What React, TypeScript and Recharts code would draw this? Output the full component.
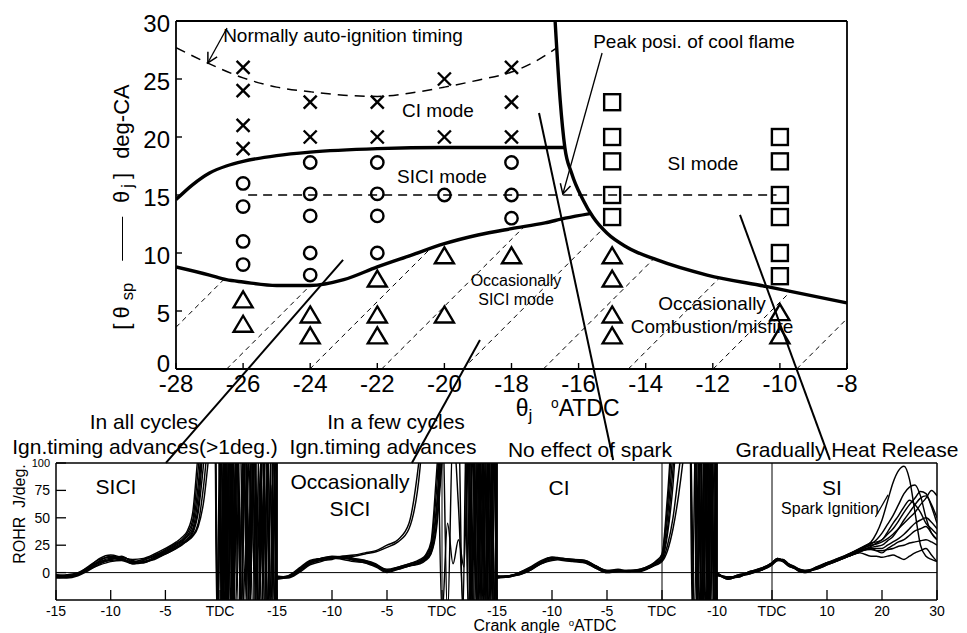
import React from 'react';
import { ComposedChart, Line, Scatter, XAxis, YAxis, ReferenceLine } from 'recharts';

const FONT = '"Liberation Sans", Arial, Helvetica, sans-serif';
const INK = '#000';

// ================= main map data =================
const mainXTicks = [-28, -26, -24, -22, -20, -18, -16, -14, -12, -10, -8];
const mainYTicks = [0, 5, 10, 15, 20, 25, 30];

const ciModePts = [
  { x: -26, y: 26 }, { x: -26, y: 24 }, { x: -26, y: 21 }, { x: -26, y: 19 },
  { x: -24, y: 23 }, { x: -24, y: 20 },
  { x: -22, y: 23 }, { x: -22, y: 20 },
  { x: -20, y: 25 }, { x: -20, y: 20 },
  { x: -18, y: 26 }, { x: -18, y: 23 }, { x: -18, y: 20 },
];
const siciModePts = [
  { x: -26, y: 16 }, { x: -26, y: 14 }, { x: -26, y: 11 }, { x: -26, y: 9 },
  { x: -24, y: 17.8 }, { x: -24, y: 15.1 }, { x: -24, y: 13.2 }, { x: -24, y: 10 }, { x: -24, y: 8.1 },
  { x: -22, y: 17.8 }, { x: -22, y: 15.1 }, { x: -22, y: 13.2 }, { x: -22, y: 10 },
  { x: -20, y: 15 },
  { x: -18, y: 17.8 }, { x: -18, y: 15 }, { x: -18, y: 13 },
];
const siModePts = [
  { x: -15, y: 23 }, { x: -15, y: 20 }, { x: -15, y: 17.9 }, { x: -15, y: 15 }, { x: -15, y: 13.1 },
  { x: -10, y: 20 }, { x: -10, y: 17.9 }, { x: -10, y: 15 }, { x: -10, y: 13.1 }, { x: -10, y: 10 }, { x: -10, y: 8 },
];
const occasionalPts = [
  { x: -26, y: 6 }, { x: -26, y: 3.9 },
  { x: -24, y: 4.7 }, { x: -24, y: 2.9 },
  { x: -22, y: 7.8 }, { x: -22, y: 4.7 }, { x: -22, y: 2.9 },
  { x: -20, y: 9.8 }, { x: -20, y: 4.7 },
  { x: -18, y: 9.8 },
  { x: -15, y: 9.8 }, { x: -15, y: 7.8 }, { x: -15, y: 4.7 }, { x: -15, y: 2.9 },
  { x: -10, y: 4.9 }, { x: -10, y: 2.9 },
];

const autoIgnitionTiming = [
  { x: -28, y: 27.7 }, { x: -27, y: 26.3 }, { x: -26, y: 25.1 }, { x: -25, y: 24.3 }, { x: -24, y: 23.9 },
  { x: -23, y: 23.6 }, { x: -22, y: 23.5 }, { x: -21, y: 23.8 }, { x: -20, y: 24.3 }, { x: -19, y: 24.9 },
  { x: -18, y: 25.6 }, { x: -17.3, y: 26.5 }, { x: -16.64, y: 27.7 },
];
const ciSiciBoundary = [
  { x: -28, y: 14.6 }, { x: -27.5, y: 15.9 }, { x: -27, y: 16.9 }, { x: -26.5, y: 17.5 }, { x: -26, y: 17.9 },
  { x: -25, y: 18.4 }, { x: -24, y: 18.7 }, { x: -22, y: 19.0 }, { x: -20, y: 19.1 }, { x: -18, y: 19.1 },
  { x: -16.41, y: 19.1 },
];
const siciLowerBoundary = [
  { x: -28, y: 8.8 }, { x: -27, y: 8.1 }, { x: -26.5, y: 7.7 }, { x: -26, y: 7.5 }, { x: -25, y: 7.2 },
  { x: -24, y: 7.2 }, { x: -23, y: 7.7 }, { x: -22, y: 8.8 }, { x: -21, y: 9.8 }, { x: -20, y: 10.8 },
  { x: -19, y: 11.55 }, { x: -18, y: 12.1 }, { x: -17, y: 12.6 }, { x: -16.4, y: 13.0 }, { x: -15.66, y: 13.4 },
];
const siBoundary = [
  { x: -16.7, y: 30 }, { x: -16.55, y: 23.2 }, { x: -16.41, y: 19.1 }, { x: -16.21, y: 16.9 },
  { x: -15.87, y: 14.6 }, { x: -15.57, y: 13.1 }, { x: -15.15, y: 11.7 }, { x: -14.56, y: 10.5 },
  { x: -13.66, y: 9.4 }, { x: -12.17, y: 8.1 }, { x: -10.38, y: 7.1 }, { x: -8, y: 5.7 },
];
const coolFlamePeak = [{ x: -25.85, y: 15 }, { x: -10.1, y: 15 }];

// hatching of the "occasionally" region
const hatchFrom = [[-28, 3.6], [-26.49, 0], [-24.01, 0], [-21.87, 0], [-19.45, 0], [-17.05, 0], [-14.52, 0], [-11.99, 0], [-9.5, 0]];
const hatchTo = [[-26.57, 7.73], [-24.0, 7.2], [-20.41, 10.4], [-17.61, 12.31], [-15.27, 12.1], [-13.75, 9.53], [-11.79, 7.89], [-9.68, 6.69], [-8, 4.34]];

// leader lines map -> ROHR panels
const leaderFrom = [[-23.02, 9.4], [-18.94, 2.5], [-17.18, 22.07], [-11.19, 13.28]];
const leaderTo = [[-28.3, -8.1], [-20.97, -8.1], [-14.97, -7.84], [-8.51, -7.84]];
// annotation arrows
const arrowFrom = [[-26.48, 29.4], [-15.3, 27.24]];
const arrowTo = [[-27.05, 26.4], [-16.47, 15.09]];

// ================= ROHR panels data =================
const rohrTicks = [0, 25, 50, 75, 100];

// ---- panel 1 : SICI ----
const p1PreX = [-15, -14, -13, -12, -11, -10, -9, -8, -7, -6, -5, -4, -3.5, -3, -2.5, -2, -1.5, -1, -0.5];
const p1Pre = [
  [-3, -4, -2, 4, 10, 13, 13, 9, 10, 14, 19, 25, 28, 33, 40, 70, 130, 160, 160],
  [-2, -3, -1, 6, 12, 14, 12, 10, 12, 15, 21, 27, 30, 36, 48, 95, 150, 160, 160],
  [-4, -5, -3, 2, 8, 12, 14, 11, 9, 13, 18, 23, 26, 30, 36, 55, 100, 150, 160],
  [-3, -2, 0, 5, 11, 15, 13, 8, 11, 16, 20, 26, 29, 34, 44, 80, 140, 160, 160],
  [-5, -4, -1, 3, 9, 11, 12, 9, 10, 12, 17, 22, 26, 29, 34, 45, 80, 130, 160],
  [-2, -3, -2, 5, 13, 16, 14, 12, 13, 17, 22, 28, 32, 38, 55, 110, 160, 160, 160],
  [-4, -3, -1, 3, 7, 10, 11, 8, 9, 13, 17, 22, 25, 29, 33, 42, 65, 110, 160],
  [-3, -4, -2, 4, 10, 12, 15, 10, 12, 15, 19, 24, 27, 31, 38, 60, 120, 160, 160],
];
const p1PostX = [
  [-0.2, 0.1, 0.4, 0.7, 1.0, 1.3, 1.7, 2.1, 2.5, 2.9, 3.3, 3.7, 4.1, 4.5, 4.9, 5.2],
  [-0.15, 0.15, 0.45, 0.75, 1.05, 1.4, 1.8, 2.2, 2.6, 3.0, 3.4, 3.8, 4.2, 4.6, 5.0, 5.2],
  [-0.25, 0.05, 0.35, 0.6, 0.9, 1.2, 1.55, 1.95, 2.35, 2.75, 3.15, 3.55, 3.95, 4.35, 4.75, 5.15],
  [-0.1, 0.2, 0.5, 0.8, 1.1, 1.45, 1.85, 2.25, 2.65, 3.05, 3.45, 3.85, 4.25, 4.65, 5.05, 5.2],
  [-0.3, 0.0, 0.25, 0.55, 0.85, 1.15, 1.5, 1.9, 2.3, 2.7, 3.1, 3.5, 3.9, 4.3, 4.7, 5.1],
  [-0.05, 0.25, 0.55, 0.85, 1.15, 1.5, 1.9, 2.3, 2.7, 3.1, 3.5, 3.9, 4.3, 4.7, 5.0, 5.2],
  [-0.22, 0.08, 0.3, 0.62, 0.95, 1.25, 1.6, 2.0, 2.4, 2.8, 3.2, 3.6, 4.0, 4.4, 4.8, 5.2],
  [-0.12, 0.18, 0.42, 0.72, 1.02, 1.35, 1.75, 2.15, 2.55, 2.95, 3.35, 3.75, 4.15, 4.55, 4.95, 5.2],
];
const p1Post = [
  [-40, 130, -40, 130, -40, 130, -40, 120, -40, 130, -40, 100, -40, 130, -40, 130],
  [130, -40, 130, -40, 130, -40, 130, -40, 110, -40, 130, -40, 130, -40, 90, -40],
  [-40, -40, 130, -40, 130, -40, 130, -40, 130, -20, 130, -40, 130, -40, 130, -40],
  [130, -40, -40, 130, -40, 130, 20, 130, -40, 130, -40, 130, -40, 80, -40, 130],
  [-40, 130, 130, -40, 130, -40, 130, -40, 130, -40, 130, -40, 60, 130, -40, 130],
  [130, -40, 130, -40, -40, 130, -40, 130, -40, 130, -40, 130, -40, 130, -40, -40],
  [-40, 130, -40, 130, 130, -40, 130, -40, 40, 130, -40, 130, -40, 130, 130, -40],
  [130, -40, 130, -40, 130, -40, -40, 130, -40, 130, -40, -40, 130, -40, 130, 130],
];

// ---- panel 2 : occasionally SICI ----
const p2PreX = [-15, -14, -13, -12, -11, -10, -9, -8, -7, -6, -5, -4, -3, -2, -1.5, -1, -0.5, 0];
const p2Pre = [
  [-4, -4, 2, 9, 12, 13, 13, 12, 10, 6, 1, 4, 7, 10, 14, 22, 60, 130],
  [-5, -3, 4, 11, 13, 14, 14, 11, 9, 5, 0, 3, 6, 9, 12, 18, 45, 110],
  [-3, -4, 1, 8, 11, 12, 15, 13, 11, 7, 2, 5, 8, 11, 15, 25, 75, 150],
  [-4, -5, 0, 7, 10, 13, 12, 10, 9, 6, 1, 4, 6, 9, 13, 20, 55, 120],
  [-6, -4, 3, 10, 13, 15, 14, 12, 10, 7, 3, 5, 8, 12, 16, 28, 90, 160],
  [-5, -4, 2, 9, 12, 13, 13, 12, 11, 8, 2, 3, 6, 8, 11, 17, 40, 100],
  [-4, -3, 3, 10, 13, 14, 15, 16, 18, 20, 25, 30, 45, 110, 160, 160, 160, -40],
  [-5, -4, 2, 9, 12, 14, 14, 15, 17, 19, 23, 28, 40, 95, 160, 160, 160, 160],
];
const p2PostX = [
  [0.5, 1.0, 1.5, 2.0, 2.4, 2.8, 3.2, 3.6, 4.0, 4.4, 4.8, 5.0],
  [0.5, 1.0, 1.5, 2.1, 2.5, 2.9, 3.3, 3.7, 4.1, 4.5, 4.9, 5.1],
  [0.5, 1.0, 1.5, 2.0, 2.3, 2.65, 3.05, 3.45, 3.85, 4.25, 4.65, 5.05],
  [0.5, 1.0, 1.45, 1.9, 2.2, 2.6, 3.0, 3.4, 3.8, 4.2, 4.6, 5.0],
  [0.5, 1.0, 1.5, 2.05, 2.45, 2.75, 3.15, 3.55, 3.95, 4.35, 4.75, 5.1],
  [0.5, 1.0, 1.5, 2.0, 2.35, 2.7, 3.1, 3.5, 3.9, 4.3, 4.7, 5.05],
  [0.5, 1.0, 1.5, 2.0, 2.4, 2.8, 3.2, 3.6, 4.0, 4.4, 4.8, 5.0],
  [0.5, 1.0, 1.5, 2.0, 2.5, 2.85, 3.25, 3.65, 4.05, 4.45, 4.85, 5.1],
];
const p2Post = [
  [160, 160, 160, 160, -40, 130, -40, 130, -40, 130, -40, 130],
  [160, 160, 160, 130, 130, -40, 130, -40, 130, -40, 130, -40],
  [160, 160, 160, 160, 160, -40, -40, 130, -40, 130, -40, 130],
  [160, 160, 160, -40, 130, -40, 130, -40, 130, -40, 130, -40],
  [160, 160, 160, 160, -40, 130, -40, 130, -40, 130, -40, 130],
  [160, 160, 160, 160, 130, -40, 130, -40, 130, -40, 130, -40],
  [45, 8, 30, 5, 130, -40, 130, -40, 130, -40, 130, -40],
  [-40, 130, 60, -40, -40, 130, -40, 130, -40, 130, -40, 130],
];

// ---- panel 3 : CI ----
const p3PreX = [-15, -14, -13, -12, -11, -10, -9, -8, -7, -6, -5, -4, -3, -2, -1, -0.5, 0, 0.5, 1.0, 1.5, 2.0, 2.5];
const p3Pre = [
  [-4, -3, -1, 3, 9, 13, 12, 11, 10, 5, 1, 2, 1, 2, 6, 9, 14, 50, 110, 160, 160, 160],
  [-3, -4, 0, 4, 10, 14, 13, 10, 9, 4, 0, 1, 2, 3, 7, 10, 16, 60, 130, 160, 160, 160],
  [-5, -3, -2, 2, 8, 12, 13, 12, 11, 6, 2, 3, 1, 1, 5, 8, 12, 35, 80, 150, 160, 160],
  [-4, -4, -1, 3, 9, 13, 11, 10, 10, 5, 1, 2, 2, 2, 6, 9, 13, 40, 95, 160, 160, 160],
  [-3, -3, 0, 5, 11, 14, 12, 11, 9, 4, 0, 1, 1, 3, 7, 11, 17, 70, 140, 160, 160, 160],
  [-4, -3, -1, 3, 8, 11, 12, 12, 11, 6, 2, 2, 1, 2, 5, 8, 11, 25, 50, 90, 130, 160],
  [-5, -4, -2, 2, 9, 13, 13, 11, 10, 6, 1, 2, 2, 2, 5, 7, 10, 20, 40, 70, 110, 160],
];
const p3PostX = [
  [2.9, 3.2, 3.5, 3.8, 4.1, 4.4, 4.7, 5.0],
  [2.95, 3.25, 3.55, 3.85, 4.15, 4.45, 4.75, 5.05],
  [2.8, 3.1, 3.4, 3.7, 4.0, 4.3, 4.6, 4.9],
  [2.85, 3.15, 3.45, 3.75, 4.05, 4.35, 4.65, 4.95],
  [3.0, 3.3, 3.6, 3.9, 4.2, 4.5, 4.8, 5.1],
  [2.75, 3.05, 3.35, 3.65, 3.95, 4.25, 4.55, 4.85],
  [2.9, 3.22, 3.52, 3.82, 4.12, 4.42, 4.72, 5.02],
];
const p3Post = [
  [130, -40, 130, -40, 130, -40, 130, -40],
  [-40, 130, -40, 130, -40, 130, -40, 130],
  [130, 130, -40, 130, -40, 130, -40, 130],
  [-40, -40, 130, -40, 130, -40, 130, -40],
  [130, -40, -40, 130, -40, 130, -40, 130],
  [-40, 130, 130, -40, 130, -40, 130, -40],
  [130, -40, 130, -40, -40, 130, -40, 130],
];

// ---- panel 4 : SI ----
const p4X = [-10, -8, -6, -4, -2, 0, 1, 2, 3, 4, 5, 6, 8, 10, 12, 14, 16, 18, 19, 20, 21, 22, 23, 24, 25, 26, 27, 28, 29, 30];
const p4Curves = [
  [-1, -5, -3, 0, 3, 8, 12, 11, 7, 5, 2, 1, 4, 8, 13, 17, 22, 28, 36, 48, 65, 82, 93, 97, 85, 55, 25, 15, 12, 10],
  [-2, -4, -4, 1, 4, 9, 13, 10, 6, 4, 1, 0, 5, 9, 12, 16, 21, 26, 30, 36, 44, 52, 62, 72, 78, 80, 70, 50, 36, 30],
  [0, -6, -3, -1, 2, 7, 11, 12, 8, 6, 3, 2, 3, 7, 11, 15, 20, 24, 27, 30, 35, 40, 47, 55, 62, 68, 74, 72, 60, 45],
  [-1, -5, -2, 0, 3, 8, 12, 11, 7, 5, 2, 1, 5, 8, 12, 17, 21, 25, 26, 28, 31, 35, 40, 45, 50, 55, 62, 68, 75, 70],
  [-3, -4, -3, 1, 4, 9, 13, 11, 6, 4, 1, 0, 4, 9, 13, 16, 20, 23, 24, 25, 29, 33, 40, 48, 55, 62, 68, 70, 62, 50],
  [-2, -5, -4, 0, 2, 7, 12, 12, 8, 5, 2, 1, 3, 7, 11, 15, 19, 22, 22, 22, 25, 28, 31, 35, 40, 45, 48, 50, 46, 40],
  [-1, -6, -3, -1, 3, 8, 11, 10, 7, 5, 3, 2, 4, 8, 12, 16, 20, 21, 20, 20, 21, 22, 24, 25, 27, 28, 29, 30, 28, 25],
  [0, -5, -2, 0, 3, 8, 12, 11, 7, 4, 2, 1, 4, 8, 12, 15, 18, 15, 15, 14, 15, 16, 14, 12, 15, 18, 20, 22, 16, 10],
  [-2, -4, -3, 1, 3, 9, 13, 11, 7, 5, 2, 1, 4, 9, 12, 17, 22, 27, 28, 30, 37, 45, 52, 60, 66, 62, 55, 45, 40, 35],
  [-1, -5, -3, 0, 2, 8, 12, 11, 8, 5, 3, 1, 4, 8, 11, 15, 19, 22, 20, 18, 22, 25, 28, 30, 34, 38, 40, 42, 36, 30],
];
// leader from "Spark Ignition" label to the curves in panel 4
const sparkLeader = [[18.8, 50.7], [21.1, 70.9]];

// ================= helpers =================
const toPts = (xs: number[], ys: number[]) => xs.map((x, i) => ({ x, y: ys[i] }));
const joinPts = (preX: number[], pre: number[], postX?: number[], post?: number[]) =>
  toPts(preX, pre).concat(postX && post ? toPts(postX, post) : []);

const p1Series = p1Pre.map((c, i) => joinPts(p1PreX, c, p1PostX[i], p1Post[i]));
const p2Series = p2Pre.map((c, i) => joinPts(p2PreX, c, p2PostX[i], p2Post[i]));
const p3Series = p3Pre.map((c, i) => joinPts(p3PreX, c, p3PostX[i], p3Post[i]));
const p4Series = p4Curves.map((c) => toPts(p4X, c));

const CrossShape = (p: any) => {
  const { cx, cy } = p;
  const s = 6.5;
  return (
    <g stroke={INK} strokeWidth={2.4}>
      <line x1={cx - s} y1={cy - s} x2={cx + s} y2={cy + s} />
      <line x1={cx - s} y1={cy + s} x2={cx + s} y2={cy - s} />
    </g>
  );
};
const CircleShape = (p: any) => <circle cx={p.cx} cy={p.cy} r={6.2} fill="none" stroke={INK} strokeWidth={2.4} />;
const SquareShape = (p: any) => (
  <rect x={p.cx - 8} y={p.cy - 8} width={16} height={16} fill="none" stroke={INK} strokeWidth={2.4} />
);
const TriShape = (p: any) => {
  const { cx, cy } = p;
  return (
    <polygon points={`${cx},${cy - 8} ${cx + 9.5},${cy + 8} ${cx - 9.5},${cy + 8}`}
      fill="none" stroke={INK} strokeWidth={2.4} strokeLinejoin="miter" />
  );
};

const ArrowLine = (p: any) => {
  const { x1, y1, x2, y2 } = p;
  if ([x1, y1, x2, y2].some((v) => typeof v !== 'number' || isNaN(v))) return <g />;
  const a = Math.atan2(y2 - y1, x2 - x1);
  const L = 11;
  const h = 0.5;
  const ax = x2 - L * Math.cos(a - h);
  const ay = y2 - L * Math.sin(a - h);
  const bx = x2 - L * Math.cos(a + h);
  const by = y2 - L * Math.sin(a + h);
  return (
    <g>
      <line x1={x1} y1={y1} x2={x2} y2={y2} stroke={INK} strokeWidth={1.3} />
      <polyline points={`${ax},${ay} ${x2},${y2} ${bx},${by}`} fill="none" stroke={INK} strokeWidth={1.5} />
    </g>
  );
};

// main y tick: the "0" label sits a little higher, clear of "-28"
const MainYTick = (p: any) => {
  const v = p.payload.value;
  return (
    <text x={p.x} y={p.y} dy={v === 0 ? 3 : 10.5} textAnchor="end" fontSize={24}
      fontFamily={FONT} fill={INK}>{v}</text>
  );
};

const RohrTick = (p: any) => {
  const v = p.payload.value;
  return (
    <text x={p.x} y={p.y} dy={v === 100 ? 4 : 5} textAnchor="end" fontSize={v === 100 ? 11 : 14}
      fontFamily={FONT} fill={INK}>{v}</text>
  );
};

type PanelProps = {
  plotLeft: number;
  plotWidth: number;
  xDomain: [number, number];
  xTicks: number[];
  series: { x: number; y: number }[][];
  yLabels: boolean;
  extra?: number[][];
};

function RohrPanel({ plotLeft, plotWidth, xDomain, xTicks, series, yLabels, extra }: PanelProps) {
  const yw = 56;
  return (
    <div style={{ position: 'absolute', left: plotLeft - yw, top: 455 }}>
      <ComposedChart width={yw + plotWidth + 8} height={175} margin={{ top: 8, right: 8, bottom: 0, left: 0 }}>
        <XAxis type="number" dataKey="x" domain={xDomain} ticks={xTicks} allowDataOverflow interval={0}
          height={30} tickSize={-10} tickMargin={16}
          tickFormatter={(v: number) => (v === 0 ? 'TDC' : String(v))}
          axisLine={{ stroke: INK, strokeWidth: 1.5 }} tickLine={{ stroke: INK, strokeWidth: 1.3 }}
          tick={{ fontSize: 14, fill: INK, fontFamily: FONT }} />
        <YAxis type="number" dataKey="y" domain={[-25, 100]} ticks={rohrTicks} allowDataOverflow interval={0}
          width={yw} tickSize={-10} tickMargin={16}
          axisLine={{ stroke: INK, strokeWidth: 1.5 }} tickLine={{ stroke: INK, strokeWidth: 1.3 }}
          tick={yLabels ? <RohrTick /> : false} />
        <ReferenceLine y={0} stroke={INK} strokeWidth={1} />
        <ReferenceLine x={0} stroke={INK} strokeWidth={1} />
        <ReferenceLine y={100} stroke={INK} strokeWidth={1.5} />
        <ReferenceLine x={xDomain[1]} stroke={INK} strokeWidth={1.5} />
        {series.map((pts, i) => (
          <Line key={'c' + i} data={pts} dataKey="y" type="monotone" dot={false} activeDot={false}
            stroke={INK} strokeWidth={1.45} isAnimationActive={false} />
        ))}
        {extra ? (
          <ReferenceLine segment={[{ x: extra[0][0], y: extra[0][1] }, { x: extra[1][0], y: extra[1][1] }]}
            stroke={INK} strokeWidth={1.2} ifOverflow="visible" />
        ) : null}
      </ComposedChart>
    </div>
  );
}

const Txt = (props: { x: number; y: number; size: number; children: React.ReactNode; rotate?: boolean; style?: React.CSSProperties }) => (
  <div style={{
    position: 'absolute', left: props.x, top: props.y,
    transform: props.rotate ? 'translate(-50%,-50%) rotate(-90deg)' : 'translate(-50%,-50%)',
    fontSize: props.size, fontFamily: FONT, lineHeight: 1, whiteSpace: 'nowrap', color: INK,
    ...(props.style || {}),
  }}>{props.children}</div>
);

const subStyle: React.CSSProperties = { fontSize: '0.75em', position: 'relative', top: '0.3em' };
const supStyle: React.CSSProperties = { fontSize: '0.6em', position: 'relative', top: '-0.55em' };

export default function App() {
  return (
    <div style={{ position: 'absolute', left: 0, top: 0, width: 967, height: 633, background: '#fff', overflow: 'hidden' }}>
      {/* ROHR panels */}
      <RohrPanel plotLeft={56} plotWidth={221} xDomain={[-15, 5.2]} xTicks={[-15, -10, -5, 0]} series={p1Series} yLabels />
      <RohrPanel plotLeft={277} plotWidth={220} xDomain={[-15, 5]} xTicks={[-15, -10, -5, 0]} series={p2Series} yLabels={false} />
      <RohrPanel plotLeft={497} plotWidth={220} xDomain={[-15, 5]} xTicks={[-15, -10, -5, 0]} series={p3Series} yLabels={false} />
      <RohrPanel plotLeft={717} plotWidth={220} xDomain={[-10, 30]} xTicks={[-10, 0, 10, 20, 30]} series={p4Series} yLabels={false} extra={sparkLeader} />

      {/* main combustion-mode map */}
      <div style={{ position: 'absolute', left: 0, top: 0 }}>
        <ComposedChart width={967} height={633} margin={{ top: 21, right: 120, bottom: 224, left: 116 }}>
          <XAxis type="number" dataKey="x" domain={[-28, -8]} ticks={mainXTicks} allowDataOverflow interval={0}
            height={40} tickSize={-6} tickMargin={12}
            axisLine={{ stroke: INK, strokeWidth: 1.8 }} tickLine={{ stroke: INK, strokeWidth: 1.4 }}
            tick={{ fontSize: 24, fill: INK, fontFamily: FONT }} />
          <YAxis type="number" dataKey="y" domain={[0, 30]} ticks={mainYTicks} allowDataOverflow interval={0}
            width={60} tickSize={-6} tickMargin={12}
            axisLine={{ stroke: INK, strokeWidth: 1.8 }} tickLine={{ stroke: INK, strokeWidth: 1.4 }}
            tick={<MainYTick />} />
          <ReferenceLine y={30} stroke={INK} strokeWidth={1.8} />
          <ReferenceLine x={-8} stroke={INK} strokeWidth={1.8} />

          {hatchFrom.map((s, i) => (
            <ReferenceLine key={'h' + i}
              segment={[{ x: s[0], y: s[1] }, { x: hatchTo[i][0], y: hatchTo[i][1] }]}
              stroke={INK} strokeWidth={1} strokeDasharray="5 4" ifOverflow="visible" />
          ))}

          <Line data={autoIgnitionTiming} dataKey="y" type="monotone" dot={false} activeDot={false}
            stroke={INK} strokeWidth={1.5} strokeDasharray="10 7" isAnimationActive={false} />
          <Line data={coolFlamePeak} dataKey="y" type="linear" dot={false} activeDot={false}
            stroke={INK} strokeWidth={1.4} strokeDasharray="9 6" isAnimationActive={false} />
          <Line data={ciSiciBoundary} dataKey="y" type="monotone" dot={false} activeDot={false}
            stroke={INK} strokeWidth={3.4} isAnimationActive={false} />
          <Line data={siciLowerBoundary} dataKey="y" type="monotone" dot={false} activeDot={false}
            stroke={INK} strokeWidth={3.4} isAnimationActive={false} />
          <Line data={siBoundary} dataKey="y" type="monotone" dot={false} activeDot={false}
            stroke={INK} strokeWidth={3.4} isAnimationActive={false} />

          <Scatter data={ciModePts} shape={CrossShape} isAnimationActive={false} />
          <Scatter data={siciModePts} shape={CircleShape} isAnimationActive={false} />
          <Scatter data={siModePts} shape={SquareShape} isAnimationActive={false} />
          <Scatter data={occasionalPts} shape={TriShape} isAnimationActive={false} />

          {leaderFrom.map((s, i) => (
            <ReferenceLine key={'l' + i}
              segment={[{ x: s[0], y: s[1] }, { x: leaderTo[i][0], y: leaderTo[i][1] }]}
              stroke={INK} strokeWidth={2} ifOverflow="visible" />
          ))}
          {arrowFrom.map((s, i) => (
            <ReferenceLine key={'a' + i}
              segment={[{ x: s[0], y: s[1] }, { x: arrowTo[i][0], y: arrowTo[i][1] }]}
              stroke={INK} strokeWidth={1.3} ifOverflow="visible" shape={ArrowLine} />
          ))}
        </ComposedChart>
      </div>

      {/* main map annotations */}
      <Txt x={343} y={35} size={19}>Normally auto-ignition timing</Txt>
      <Txt x={694} y={41} size={19}>Peak posi. of cool flame</Txt>
      <Txt x={438} y={110} size={19}>CI mode</Txt>
      <Txt x={442} y={176} size={19}>SICI mode</Txt>
      <Txt x={703} y={163} size={19}>SI mode</Txt>
      <Txt x={516} y={281} size={16}>Occasionally</Txt>
      <Txt x={516} y={300} size={16}>SICI mode</Txt>
      <Txt x={712} y={303} size={19}>Occasionally</Txt>
      <Txt x={712} y={326} size={19}>Combustion/misfire</Txt>

      {/* main axis titles */}
      <Txt x={122} y={207} size={22} rotate style={{ display: 'flex', alignItems: 'center' }}>
        <span style={{ marginRight: 5 }}>[</span><span>θ</span>
        <span style={{ ...subStyle, marginLeft: 6, marginRight: 8 }}>sp</span>
        <span style={{ display: 'inline-block', width: 44, borderTop: '1.6px solid #000', margin: '0 14px' }} />
        <span>θ</span><span style={{ ...subStyle, marginLeft: 3, marginRight: 5 }}>j</span><span>]</span>
        <span style={{ marginLeft: 14 }}>deg-CA</span>
      </Txt>
      <Txt x={524} y={408} size={23} style={{ lineHeight: 0.8 }}><span>θ</span><span style={subStyle}>j</span></Txt>
      <div style={{ position: 'absolute', left: 551, top: 408, transform: 'translateY(-50%)', fontSize: 23, fontFamily: FONT, lineHeight: 0.8, whiteSpace: 'nowrap' }}>
        <span style={supStyle}>o</span>ATDC
      </div>

      {/* panel headings */}
      <Txt x={144} y={421} size={21}>In all cycles</Txt>
      <Txt x={145} y={446} size={21}>Ign.timing advances(&gt;1deg.)</Txt>
      <Txt x={396} y={421} size={21}>In a few cycles</Txt>
      <Txt x={383} y={446} size={21}>Ign.timing advances</Txt>
      <Txt x={590} y={449} size={21}>No effect of spark</Txt>
      <Txt x={847} y={449} size={21}>Gradually Heat Release</Txt>

      {/* in-panel labels */}
      <Txt x={116} y={486} size={21}>SICI</Txt>
      <Txt x={350} y={481} size={21}>Occasionally</Txt>
      <Txt x={350} y={508} size={21}>SICI</Txt>
      <Txt x={559} y={487} size={21}>CI</Txt>
      <Txt x={832} y={487} size={21}>SI</Txt>
      <Txt x={830} y={509} size={16}>Spark Ignition</Txt>

      {/* panel axis titles */}
      <Txt x={20} y={514} size={16} rotate>ROHR&nbsp;&nbsp;J/deg.</Txt>
      <Txt x={545} y={626} size={16}>Crank angle&nbsp;&nbsp;<span style={supStyle}>o</span>ATDC</Txt>
    </div>
  );
}
